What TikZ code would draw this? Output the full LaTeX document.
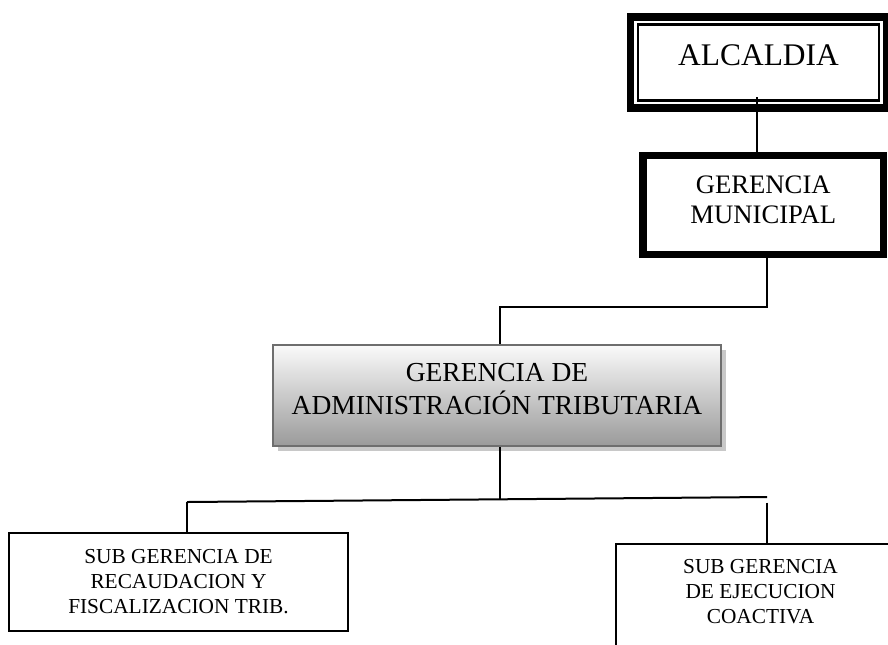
\documentclass[tikz,border=0pt]{standalone}
\usepackage{fontspec}
\setmainfont{Liberation Serif}
\usetikzlibrary{shadows}
\definecolor{atborder}{HTML}{6E6E6E}
\definecolor{attop}{HTML}{FAFAFA}
\definecolor{atbot}{HTML}{9A9A9A}
\definecolor{atshadow}{HTML}{C8C8C8}
\newcommand\mylines[2]{\raisebox{#1}[0pt][0pt]{\begin{tabular}[b]{@{}c@{}}#2\end{tabular}}}
\begin{document}
\begin{tikzpicture}[x=0.75pt,y=-0.75pt,
  thickbox/.style={draw, line width=5.6pt, fill=white, inner sep=0pt},
  alcbox/.style={thickbox, outer sep=0pt, minimum width=192pt, minimum height=68.5pt,
    font=\fontsize{23.6pt}{27pt}\selectfont},
  gmbox/.style={thickbox, minimum width=180.4pt, minimum height=74.25pt,
    font=\fontsize{20pt}{22pt}\selectfont},
  atbox/.style={draw=atborder, line width=1.8pt, top color=attop, bottom color=atbot,
    general shadow={fill=atshadow, shadow xshift=3.5pt, shadow yshift=-3.5pt},
    inner sep=0pt, minimum width=336pt, minimum height=75.75pt,
    font=\fontsize{20.6pt}{25pt}\selectfont},
  subbox/.style={draw, line width=1.5pt, fill=white, inner sep=0pt,
    font=\fontsize{16pt}{18.75pt}\selectfont},
  link/.style={line width=1.5pt}]
\useasboundingbox (0,0) rectangle (888,644);
\clip (0,0) rectangle (888,644);

% boxes
\node[alcbox] (alc) at (758.5,62.5) {\mylines{-1.9pt}{ALCALDIA}};
\draw[line width=1.9pt] ([shift={(7.7,7.7)}]alc.north west) rectangle ([shift={(-7.7,-7.7)}]alc.south east);
\node[gmbox] (gm) at (763.25,205) {\mylines{-13.7pt}{GERENCIA\\MUNICIPAL}};
\node[atbox] (at) at (497,395.5) {\mylines{-14.6pt}{GERENCIA DE\\ADMINISTRACIÓN TRIBUTARIA}};
\node[subbox, minimum width=254.25pt, minimum height=73.5pt] (sl) at (178.5,582)
  {\mylines{-23.5pt}{SUB GERENCIA DE\\RECAUDACION Y\\FISCALIZACION TRIB.}};
\node[subbox, minimum width=216.75pt, minimum height=117pt] (sr) at (760.5,622)
  {\mylines{-1pt}{SUB GERENCIA\\DE EJECUCION\\COACTIVA}};

% connectors
\coordinate (alcb) at (757,97);
\draw[link] (alcb) -- (alcb |- gm.north);
\coordinate (gmj) at (767,307);
\coordinate (atj) at (500,307);
\draw[link] (gmj |- gm.south) -- (gmj) -- (atj) -- (atj |- at.north);
\coordinate (hm) at (500,499.3);
\draw[link] (hm |- at.south) -- (hm);
\coordinate (hl) at (187,502);
\coordinate (hr) at (767,497);
\draw[link] (hl) -- (hr);
\draw[link] (hl) -- (hl |- sl.north);
\coordinate (rv) at (767,502.5);
\draw[link] (rv) -- (rv |- sr.north);
\end{tikzpicture}
\end{document}
